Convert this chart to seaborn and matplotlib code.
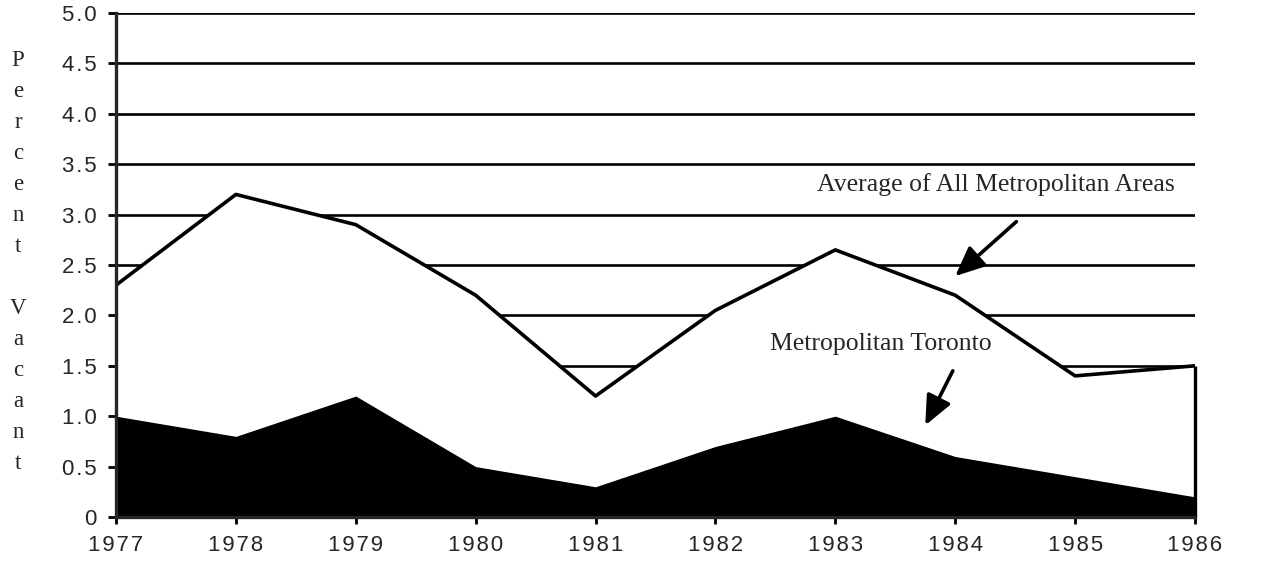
import numpy as np
import pandas as pd
import matplotlib
matplotlib.use("Agg")
import matplotlib.pyplot as plt
import seaborn as sns

# data
years = [1977, 1978, 1979, 1980, 1981, 1982, 1983, 1984, 1985, 1986]
avg_metro = [2.3, 3.2, 2.9, 2.2, 1.2, 2.05, 2.65, 2.2, 1.4, 1.5]
toronto = [1.0, 0.8, 1.2, 0.5, 0.3, 0.7, 1.0, 0.6, 0.4, 0.2]
yticks = [0, 0.5, 1.0, 1.5, 2.0, 2.5, 3.0, 3.5, 4.0, 4.5, 5.0]
ytick_labels = ["0", "0.5", "1.0", "1.5", "2.0", "2.5", "3.0", "3.5", "4.0", "4.5", "5.0"]

df = pd.DataFrame({"year": years, "avg": avg_metro, "toronto": toronto})

sns.set_style("ticks")
plt.rcParams['font.family'] = ['Liberation Sans', 'DejaVu Sans']

W, H = 1268, 571
fig = plt.figure(figsize=(W / 100, H / 100), dpi=100)
ax = fig.add_axes([116 / W, 1 - 517 / H, (1195 - 116) / W, (517 - 13) / H])

# horizontal grid lines (hidden under the white area)
for y in yticks[1:]:
    ax.axhline(y, color="black", lw=1.9, zorder=0)

# average of all metro areas: white area with black outline
ax.fill_between(df["year"], 0, df["avg"], color="white", zorder=1)
sns.lineplot(data=df, x="year", y="avg", color="black", lw=2.6, ax=ax, zorder=2)
ax.vlines([years[-1]], 0, avg_metro[-1], color="black", lw=2.4, zorder=2, clip_on=False)

# Toronto: solid black area
ax.fill_between(df["year"], 0, df["toronto"], color="black", lw=0, zorder=3)

# spaced-out tick labels like the original
def spaced(s):
    return "\u200a".join(s)

ax.set_xlim(years[0], years[-1])
ax.set_ylim(0, 5.0)
ax.set_xticks(years)
ax.set_xticklabels([spaced(str(y)) for y in years], fontsize=16)
ax.set_yticks(yticks)
ax.set_yticklabels([spaced(t) for t in ytick_labels], fontsize=16)
ax.tick_params(axis="y", direction="out", length=6, width=2, color="black", pad=8)
ax.tick_params(axis="x", direction="out", length=5, width=2, color="black", pad=8)
ax.set_xlabel("")
ax.set_ylabel("")

for s in ["top", "right"]:
    ax.spines[s].set_visible(False)
ax.spines["left"].set_linewidth(2.4)
ax.spines["bottom"].set_linewidth(2.4)
ax.spines["left"].set_zorder(5)
ax.spines["bottom"].set_zorder(5)

# stacked vertical y label
label = "Percent Vacant"
for i, ch in enumerate(label):
    if ch != " ":
        fig.text(18 / W, 1 - (66 + i * 31.0) / H, ch, family="Liberation Serif", fontsize=16.5,
                 ha="center", va="baseline")

arrow = dict(arrowstyle="-|>,head_length=1.8,head_width=0.8", color="black", lw=2.6,
             shrinkA=0, shrinkB=0)
ax.text(1982.85, 3.234, "Average of All Metropolitan Areas", family="Liberation Serif",
        fontsize=18.5, ha="left", va="baseline")
ax.annotate("", xy=(1984.0, 2.39), xytext=(1984.51, 2.93), arrowprops=arrow, zorder=6)
ax.text(1982.455, 1.657, "Metropolitan Toronto", family="Liberation Serif",
        fontsize=18.5, ha="left", va="baseline")
ax.annotate("", xy=(1983.75, 0.91), xytext=(1983.98, 1.45), arrowprops=arrow, zorder=6)

fig.savefig("out.png", dpi=100)
